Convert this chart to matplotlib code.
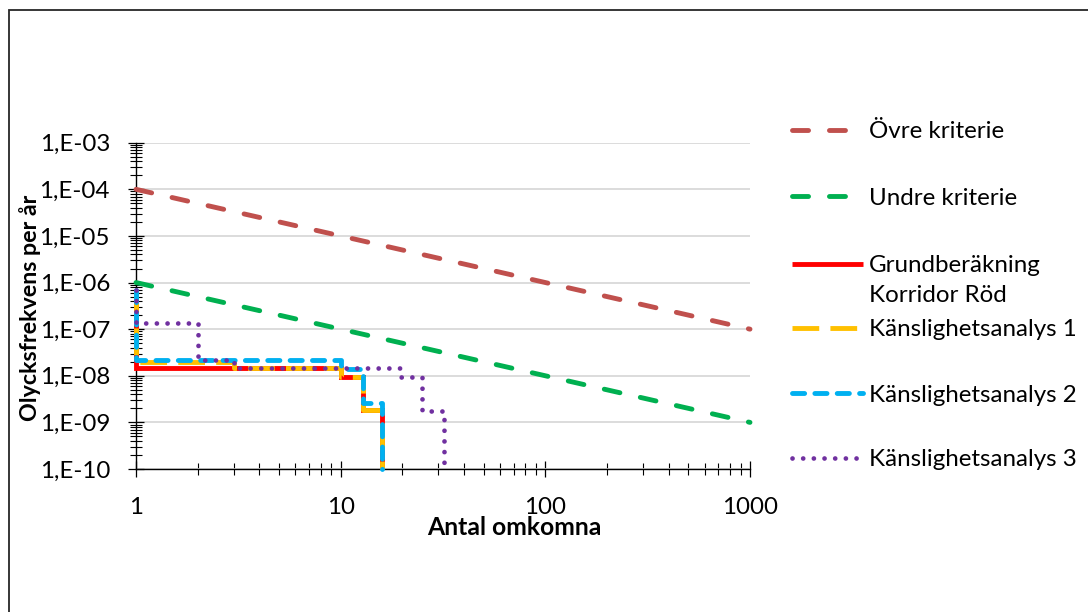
import numpy as np
import matplotlib
matplotlib.use("Agg")
import matplotlib.pyplot as plt
from matplotlib.ticker import LogLocator, NullFormatter, FixedLocator, FixedFormatter
from matplotlib.patches import Rectangle
from matplotlib.legend_handler import HandlerLine2D

FONT = "Lato"
plt.rcParams['font.family'] = [FONT, 'DejaVu Sans']

# ---------------- data ----------------
x_ticks = [1, 10, 100, 1000]
x_tick_labels = ["1", "10", "100", "1000"]
y_ticks = [1e-10, 1e-9, 1e-8, 1e-7, 1e-6, 1e-5, 1e-4, 1e-3]
y_tick_labels = ["1,E-10", "1,E-09", "1,E-08", "1,E-07", "1,E-06", "1,E-05", "1,E-04", "1,E-03"]

crit_N = [1, 1000]
ovre_F = [1e-4, 1e-7]
undre_F = [1e-6, 1e-9]

grund_N = [1, 1, 10, 12.8, 16]
grund_F = [7e-7, 1.5e-8, 9.3e-9, 1.85e-9, 1e-10]

k1_N = [1, 1, 3, 10, 12.8, 16]
k1_F = [7e-7, 1.95e-8, 1.5e-8, 9.3e-9, 1.85e-9, 1e-10]

k2_N = [1, 1, 10, 12.8, 16]
k2_F = [7e-7, 2.2e-8, 1.4e-8, 2.6e-9, 1e-10]

k3_N = [1, 1, 2, 3, 19.4, 25, 32]
k3_F = [7e-7, 1.35e-7, 2.2e-8, 1.5e-8, 9.3e-9, 1.75e-9, 1e-10]

labels = ["Övre kriterie", "Undre kriterie", "Grundberäkning\nKorridor Röd",
          "Känslighetsanalys 1", "Känslighetsanalys 2", "Känslighetsanalys 3"]
colors = ["#C0504D", "#00B050", "#FF0000", "#FFC000", "#00B0F0", "#7030A0"]
x_label = "Antal omkomna"
y_label = "Olycksfrekvens per år"

# ---------------- figure ----------------
W, H = 1088, 612
fig = plt.figure(figsize=(W / 100, H / 100), dpi=100)
fig.patch.set_facecolor("white")

r = fig.canvas.get_renderer()


def fit_size(text, target_px, weight="normal"):
    probe = fig.text(0, 0, text, fontsize=20, fontweight=weight)
    w = probe.get_window_extent(renderer=r).width
    probe.remove()
    return 20 * target_px / w


FS = fit_size("Känslighetsanalys 2", 208.0)
FS_X = fit_size(x_label, 174.0, "bold")
FS_Y = fit_size(y_label, 227.0, "bold")
EM = FS * 100 / 72.0


def fx(px):
    return px / W


def fy(py):
    return 1 - py / H


ax_l, ax_r, ax_t, ax_b = 136, 750, 142.7, 469
ax = fig.add_axes([fx(ax_l), fy(ax_b), fx(ax_r) - fx(ax_l), fy(ax_t) - fy(ax_b)])
ax.set_xscale("log")
ax.set_yscale("log")
ax.set_xlim(1, 1000)
ax.set_ylim(1e-10, 1e-3)

LW = 3.5
l0, = ax.plot(crit_N, ovre_F, color=colors[0], lw=LW, dashes=(3.3, 4.3),
              dash_capstyle="round", label=labels[0], clip_on=False, zorder=3)
l1, = ax.plot(crit_N, undre_F, color=colors[1], lw=LW, dashes=(3.3, 4.3),
              dash_capstyle="round", label=labels[1], clip_on=False, zorder=3)
l2, = ax.plot(grund_N, grund_F, color=colors[2], lw=LW, drawstyle="steps-post",
              solid_joinstyle="miter", solid_capstyle="butt",
              label=labels[2], clip_on=False, zorder=4)
l3, = ax.plot(k1_N, k1_F, color=colors[3], lw=LW, drawstyle="steps-post",
              dashes=(5.5, 2.3), dash_capstyle="butt",
              label=labels[3], clip_on=False, zorder=5)
l4, = ax.plot(k2_N, k2_F, color=colors[4], lw=LW, drawstyle="steps-post",
              dashes=(2.5, 2.1), dash_capstyle="round",
              label=labels[4], clip_on=False, zorder=6)
l5, = ax.plot(k3_N, k3_F, color=colors[5], lw=3.4, drawstyle="steps-post",
              dashes=(0.01, 2.25), dash_capstyle="round",
              label=labels[5], clip_on=False, zorder=7)
lines = [l0, l1, l2, l3, l4, l5]

# ticks
ax.xaxis.set_major_locator(FixedLocator(x_ticks))
ax.xaxis.set_major_formatter(FixedFormatter(x_tick_labels))
ax.xaxis.set_minor_locator(LogLocator(base=10, subs=np.arange(2, 10), numticks=100))
ax.xaxis.set_minor_formatter(NullFormatter())
ax.yaxis.set_major_locator(FixedLocator(y_ticks))
ax.yaxis.set_major_formatter(FixedFormatter(y_tick_labels))
ax.yaxis.set_minor_locator(LogLocator(base=10, subs=np.arange(2, 10), numticks=100))
ax.yaxis.set_minor_formatter(NullFormatter())

ax.tick_params(axis="both", which="major", direction="inout", length=11, width=0.9,
               color="black", labelsize=FS, labelcolor="black")
ax.tick_params(axis="both", which="minor", direction="inout", length=8, width=0.8,
               color="black")
ax.tick_params(axis="y", which="major", pad=13.2)
ax.tick_params(axis="x", which="major", pad=14.3)

for s in ["top", "right"]:
    ax.spines[s].set_visible(False)
for s in ["left", "bottom"]:
    ax.spines[s].set_color("black")
    ax.spines[s].set_linewidth(1.0)

ax.yaxis.grid(True, which="major", color="#D9D9D9", lw=1.3)
ax.set_axisbelow(True)
ax.set_facecolor("white")

# axis labels
ax.set_xlabel(x_label, fontsize=FS_X, fontweight="bold")
ax.xaxis.set_label_coords((514.6 - ax_l) / (ax_r - ax_l), (ax_b - 516) / (ax_b - ax_t))
ax.xaxis.label.set_verticalalignment("top")
ax.set_ylabel(y_label, fontsize=FS_Y, fontweight="bold")
ax.yaxis.set_label_coords((41 - ax_l) / (ax_r - ax_l), (ax_b - 308) / (ax_b - ax_t))


# legend (separate entries to mimic Excel spacing)
class ShiftedHandler(HandlerLine2D):
    def __init__(self, dy=0.0, **kw):
        super().__init__(**kw)
        self.dy = dy

    def create_artists(self, legend, orig_handle, xdescent, ydescent, width, height,
                       fontsize, trans):
        arts = super().create_artists(legend, orig_handle, xdescent, ydescent, width,
                                      height, fontsize, trans)
        for a in arts:
            if hasattr(a, "get_ydata"):
                a.set_ydata(np.asarray(a.get_ydata(), dtype=float) + self.dy)
        return arts


leg_y = [131.7, 198.3, 280.4, 330, 395, 460]
leg_shift = [0, 0, 11.8, 0, 0, 0]
hl_px = 71.0
for i, (ln, yy) in enumerate(zip(lines, leg_y)):
    leg = fig.legend([ln], [labels[i]], loc="center left",
                     bbox_to_anchor=(fx(791.7), fy(yy)), bbox_transform=fig.transFigure,
                     frameon=False, fontsize=FS, borderpad=0, borderaxespad=0,
                     handlelength=hl_px / EM, handletextpad=6.6 / EM,
                     handler_map={ln: ShiftedHandler(dy=leg_shift[i])})
    for t in leg.get_texts():
        t.set_linespacing(1.55)

# outer chart border
fig.add_artist(Rectangle((fx(8.5), fy(700)), 2.0, fy(10) - fy(700), transform=fig.transFigure,
                         fill=False, edgecolor="#262626", lw=1.3, clip_on=False))

fig.savefig("out.png", dpi=100, facecolor="white")
